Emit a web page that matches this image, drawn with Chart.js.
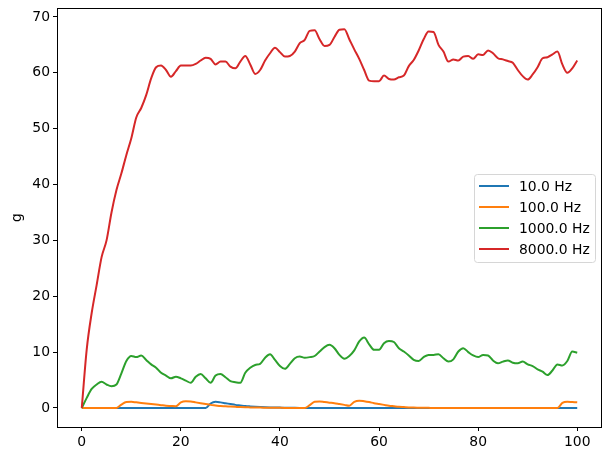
<!DOCTYPE html>
<html>
<head>
<meta charset="utf-8">
<script src="https://cdn.jsdelivr.net/npm/chart.js@4.4.1/dist/chart.umd.min.js"></script>
<style>
  html, body { margin: 0; padding: 0; background: #fff; }
  canvas { display: block; }
</style>
</head>
<body>
<canvas id="chart" width="611" height="461"></canvas>
<script>
// sample positions (0..100)
const xs = Array.from({ length: 101 }, (_, i) => i)

const labels = ["10.0 Hz", "100.0 Hz", "1000.0 Hz", "8000.0 Hz"]
const colors = ["#1f77b4", "#ff7f0e", "#2ca02c", "#d62728"]

const xTicks = [0, 20, 40, 60, 80, 100]
const yTicks = [0, 10, 20, 30, 40, 50, 60, 70]

const hz10 = [
  0, 0, 0, 0, 0, 0, 0, 0, 0, 0,
  0, 0, 0, 0, 0, 0, 0, 0, 0, 0,
  0, 0, 0, 0, 0, 0, 0.8, 1.1, 1.0, 0.85,
  0.7, 0.55, 0.45, 0.35, 0.28, 0.22, 0.17, 0.13, 0.1, 0.08,
  0.06, 0.04, 0.03, 0.02, 0.01, 0, 0, 0, 0, 0,
  0, 0, 0, 0, 0, 0, 0, 0, 0, 0,
  0, 0, 0, 0, 0, 0, 0, 0, 0, 0,
  0, 0, 0, 0, 0, 0, 0, 0, 0, 0,
  0, 0, 0, 0, 0, 0, 0, 0, 0, 0,
  0, 0, 0, 0, 0, 0, 0, 0, 0, 0,
  0
]

const hz100 = [
  0, 0, 0, 0, 0, 0, 0, 0, 0.6, 1.05,
  1.1, 1.0, 0.9, 0.8, 0.7, 0.6, 0.5, 0.4, 0.35, 0.3,
  1.0, 1.2, 1.15, 1.0, 0.85, 0.7, 0.55, 0.45, 0.35, 0.3,
  0.25, 0.2, 0.15, 0.12, 0.1, 0.08, 0.06, 0.05, 0.04, 0.03,
  0.02, 0.01, 0.01, 0, 0, 0, 0.5, 1.1, 1.15, 1.05,
  0.95, 0.85, 0.7, 0.55, 0.4, 1.1, 1.3, 1.2, 1.05, 0.85,
  0.7, 0.55, 0.4, 0.3, 0.2, 0.15, 0.1, 0.07, 0.05, 0.03,
  0.02, 0, 0, 0, 0, 0, 0, 0, 0, 0,
  0, 0, 0, 0, 0, 0, 0, 0, 0, 0,
  0, 0, 0, 0, 0, 0, 0, 0.9, 1.1, 1.05,
  1.0
]

const hz1000 = [
  0, 1.8, 3.4, 4.2, 4.7, 4.2, 3.9, 4.2, 6.2, 8.4,
  9.3, 9.1, 9.4, 8.6, 7.8, 7.2, 6.3, 5.8, 5.3, 5.6,
  5.3, 4.9, 4.5, 5.6, 6.1, 5.3, 4.5, 5.8, 6.1, 5.5,
  4.8, 4.6, 4.5, 6.3, 7.2, 7.7, 7.9, 9.0, 9.6, 8.6,
  7.5, 7.0, 7.9, 8.9, 9.2, 9.0, 9.1, 9.3, 10.1, 10.9,
  11.3, 10.7, 9.5, 8.8, 9.3, 10.3, 11.9, 12.6, 11.4, 10.4,
  10.4, 11.6, 12.0, 11.8, 10.7, 10.1, 9.4, 8.6, 8.4, 9.1,
  9.5, 9.5, 9.6, 8.9, 8.3, 8.7, 10.1, 10.7, 10.0, 9.4,
  9.1, 9.5, 9.4, 8.5, 8.0, 8.3, 8.5, 8.1, 8.0, 8.3,
  7.8, 7.5, 6.9, 6.5, 5.9, 6.7, 7.8, 7.6, 8.4, 10.1,
  9.9
]

const hz8000 = [
  0, 10.5, 17.0, 22.0, 27.0, 30.0, 35.0, 39.0, 42.0, 45.3,
  48.3, 52.0, 53.7, 56.0, 59.0, 61.0, 61.3, 60.5, 59.3, 60.3,
  61.3, 61.3, 61.3, 61.6, 62.2, 62.7, 62.5, 61.5, 62.0, 62.0,
  61.1, 60.8, 62.0, 63.0, 61.5, 59.8, 60.5, 62.2, 63.5, 64.5,
  63.7, 62.9, 63.0, 63.8, 65.3, 65.9, 67.5, 67.6, 66.0, 64.8,
  65.0, 66.4, 67.7, 67.8, 66.0, 64.2, 62.5, 60.5, 58.6, 58.5,
  58.5, 59.5, 58.9, 58.8, 59.2, 59.5, 61.2, 62.3, 64.0, 66.0,
  67.4, 67.3, 65.0, 63.8, 62.0, 62.4, 62.2, 62.9, 63.0, 62.5,
  63.3, 63.2, 64.0, 63.5, 62.6, 62.4, 62.1, 61.8, 60.5, 59.4,
  58.8, 59.7, 61.0, 62.6, 62.8, 63.3, 63.8, 61.5, 60.0, 60.8,
  62.2
]

const series = [hz10, hz100, hz1000, hz8000]
const font = { family: "DejaVu Sans", size: 13.9 }

// box around the axes plus a matplotlib style legend at center right
const framePlugin = {
  id: "frame",
  afterDraw(chart) {
    const { ctx, chartArea: a } = chart
    ctx.save()
    ctx.strokeStyle = "#000"
    ctx.lineWidth = 1
    ctx.strokeRect(Math.round(a.left) + 0.5, Math.round(a.top) + 0.5,
      Math.round(a.right - a.left) - 1, Math.round(a.bottom - a.top))

    const rowH = 21
    const boxW = 121
    const boxH = rowH * labels.length + 4
    const bx = Math.round(a.right - 7 - boxW) + 0.5
    const by = Math.round((a.top + a.bottom) / 2 - boxH / 2) + 0.5
    ctx.beginPath()
    ctx.roundRect(bx, by, boxW, boxH, 3)
    ctx.fillStyle = "rgba(255,255,255,0.8)"
    ctx.fill()
    ctx.strokeStyle = "#d6d6d6"
    ctx.stroke()

    ctx.font = `${font.size}px ${font.family}`
    ctx.textBaseline = "middle"
    ctx.fillStyle = "#000"
    labels.forEach((label, i) => {
      const y = by + 11.5 + i * rowH
      ctx.beginPath()
      ctx.moveTo(bx + 4.5, y)
      ctx.lineTo(bx + 34.5, y)
      ctx.strokeStyle = colors[i]
      ctx.lineWidth = 2
      ctx.stroke()
      ctx.fillText(label, bx + 44.5, y + 1)
    })
    ctx.restore()
  }
}

const ctx = document.getElementById("chart").getContext("2d")

new Chart(ctx, {
  type: "line",
  data: {
    datasets: series.map((values, i) => ({
      label: labels[i],
      data: values.map((v, j) => ({ x: xs[j], y: v })),
      borderColor: colors[i],
      backgroundColor: colors[i],
      borderWidth: 2,
      pointRadius: 0,
      fill: false,
      cubicInterpolationMode: "monotone",
      order: series.length - 1 - i
    }))
  },
  options: {
    responsive: false,
    animation: false,
    events: [],
    layout: {
      padding: { top: 8, right: 9, left: 0, bottom: 0 }
    },
    plugins: {
      legend: { display: false },
      tooltip: { enabled: false }
    },
    scales: {
      x: {
        type: "linear",
        min: -5,
        max: 105,
        afterBuildTicks: scale => {
          scale.ticks = xTicks.map(v => ({ value: v }))
        },
        afterFit: scale => {
          scale.height = 34
          scale.paddingLeft = 0
          scale.paddingRight = 0
        },
        border: { display: false },
        grid: {
          drawOnChartArea: false,
          drawTicks: true,
          tickLength: 4,
          color: "#000"
        },
        ticks: {
          color: "#000",
          font: font,
          padding: 3,
          maxRotation: 0
        }
      },
      y: {
        type: "linear",
        min: -3.41,
        max: 71.6,
        afterBuildTicks: scale => {
          scale.ticks = yTicks.map(v => ({ value: v }))
        },
        afterFit: scale => {
          scale.width = 57
          scale.paddingTop = 0
          scale.paddingBottom = 0
        },
        border: { display: false },
        grid: {
          drawOnChartArea: false,
          drawTicks: true,
          tickLength: 4,
          color: "#000"
        },
        title: {
          display: true,
          text: "g",
          color: "#000",
          font: font,
          padding: { top: 9, bottom: 4 }
        },
        ticks: {
          color: "#000",
          font: font,
          padding: 3
        }
      }
    }
  },
  plugins: [framePlugin]
})
</script>
</body>
</html>
